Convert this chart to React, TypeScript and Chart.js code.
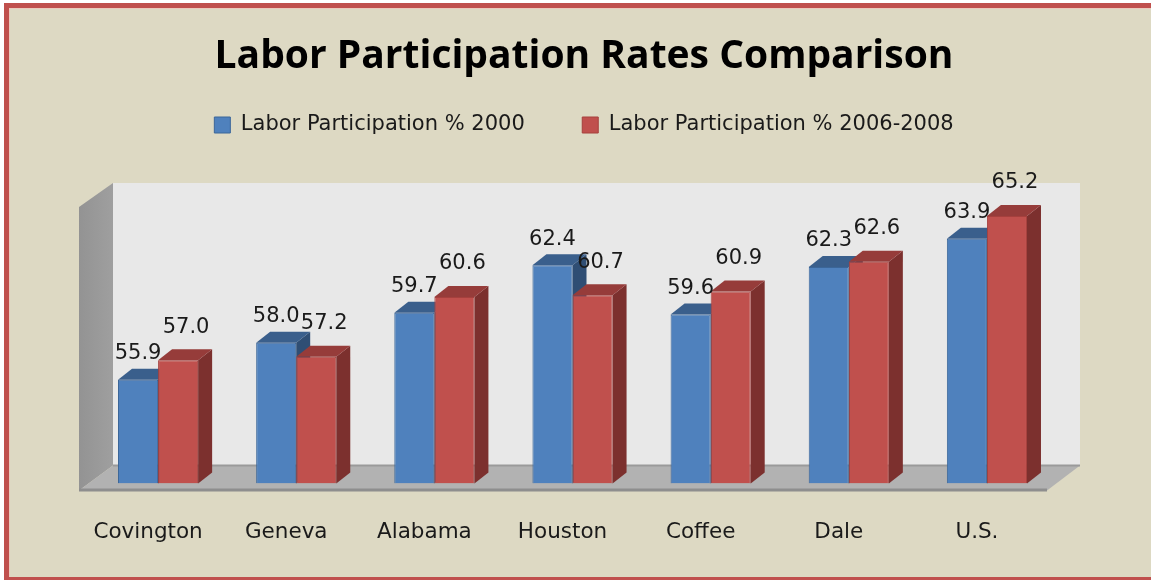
import React, { useEffect, useRef } from 'react';
import { Chart, registerables } from 'chart.js';

Chart.register(...registerables);

const categories = ['Covington', 'Geneva', 'Alabama', 'Houston', 'Coffee', 'Dale', 'U.S.'];
const rate2000 = [55.9, 58.0, 59.7, 62.4, 59.6, 62.3, 63.9];
const rate2006 = [57.0, 57.2, 60.6, 60.7, 60.9, 62.6, 65.2];
const seriesLabels = ['Labor Participation % 2000', 'Labor Participation % 2006-2008'];
const titleText = 'Labor Participation Rates Comparison';
const yMin = 50;
const yMax = 69.2;

// styles
const DX = 14;
const DY = -11;
const frontColors = ['#4F81BD', '#C0504D'];
const borderColors = ['#3B6699', '#A6403D'];
const topColors = ['#3A5F8C', '#963C3A'];
const sideColors = ['#2F4E74', '#7C302E'];
const labelDX = [0, 8];
const labelDY = [-26, -33];

function poly(ctx: CanvasRenderingContext2D, pts: number[][], fill: any) {
  ctx.beginPath();
  ctx.moveTo(pts[0][0], pts[0][1]);
  for (let i = 1; i < pts.length; i++) ctx.lineTo(pts[i][0], pts[i][1]);
  ctx.closePath();
  ctx.fillStyle = fill;
  ctx.fill();
}

const framePlugin = {
  id: 'frame3d',
  beforeDraw(chart: any) {
    const { ctx, width, height } = chart;
    ctx.save();
    ctx.fillStyle = '#FFFFFF';
    ctx.fillRect(0, 0, width, height);
    ctx.fillStyle = '#DDD9C3';
    ctx.fillRect(9, 8, width, height);
    ctx.strokeStyle = '#C0504D';
    ctx.lineWidth = 5;
    ctx.strokeRect(6.5, 5.5, width, height - 6);
    ctx.strokeStyle = '#EBC9BC';
    ctx.lineWidth = 1;
    ctx.beginPath();
    ctx.moveTo(9, 8.5);
    ctx.lineTo(width, 8.5);
    ctx.moveTo(9.5, 8);
    ctx.lineTo(9.5, height - 3);
    ctx.stroke();
    ctx.restore();
  },
  beforeDatasetsDraw(chart: any) {
    const { ctx } = chart;
    const { left, right, top, bottom } = chart.chartArea;
    const bwL = left + 24;
    const bwR = right + 24;
    const bwT = top + 37.5;
    const bwB = bottom - 18;
    const fL = left - 10;
    const fR = right - 9;
    const fY = bottom + 7;
    ctx.save();
    // back wall
    ctx.fillStyle = '#E8E8E8';
    ctx.fillRect(bwL, bwT, bwR - bwL, bwB - bwT);
    // left wall
    const grad = ctx.createLinearGradient(fL, 0, bwL, 0);
    grad.addColorStop(0, '#939393');
    grad.addColorStop(1, '#9F9F9F');
    poly(ctx, [[fL, bwT + 24], [bwL, bwT], [bwL, bwB], [fL, fY]], grad);
    // floor
    poly(ctx, [[bwL, bwB], [bwR, bwB], [fR, fY], [fL, fY]], '#B2B2B2');
    ctx.fillStyle = '#9A9A9A';
    ctx.fillRect(bwL, bwB - 1, bwR - bwL, 2);
    ctx.fillStyle = '#8E8E8E';
    ctx.fillRect(fL, fY - 2, fR - fL, 3);

    // bar 3D tops and sides
    chart.data.datasets.forEach((ds: any, di: number) => {
      const meta = chart.getDatasetMeta(di);
      meta.data.forEach((el: any) => {
        const w = el.width;
        const x0 = el.x - w / 2;
        const x1 = el.x + w / 2;
        const y = el.y;
        const b = Math.min(el.base, bottom);
        poly(ctx, [[x1, y], [x1 + DX, y + DY], [x1 + DX, b + DY], [x1, b]], sideColors[di]);
        poly(ctx, [[x0, y], [x1, y], [x1 + DX, y + DY], [x0 + DX, y + DY]], topColors[di]);
      });
    });
    ctx.restore();
  },
  afterDatasetsDraw(chart: any) {
    const { ctx } = chart;
    ctx.save();
    ctx.font = '21px "DejaVu Sans"';
    ctx.fillStyle = '#1A1A1A';
    ctx.textAlign = 'center';
    ctx.textBaseline = 'middle';
    chart.data.datasets.forEach((ds: any, di: number) => {
      const meta = chart.getDatasetMeta(di);
      meta.data.forEach((el: any, i: number) => {
        const v = ds.data[i] as number;
        ctx.fillText(v.toFixed(1), el.x + labelDX[di], el.y + labelDY[di]);
      });
    });
    ctx.restore();
  },
};

export default function App() {
  const ref = useRef<HTMLCanvasElement>(null);
  useEffect(() => {
    if (!ref.current) return;
    const chart = new Chart(ref.current, {
      type: 'bar',
      data: {
        labels: categories,
        datasets: [
          {
            label: seriesLabels[0],
            data: rate2000,
            base: yMin,
            backgroundColor: frontColors[0],
            borderColor: borderColors[0],
            borderWidth: 1,
          } as any,
          {
            label: seriesLabels[1],
            data: rate2006,
            base: yMin,
            backgroundColor: frontColors[1],
            borderColor: borderColors[1],
            borderWidth: 1,
          } as any,
        ],
      },
      options: {
        responsive: false,
        animation: false,
        devicePixelRatio: 1,
        layout: { padding: { left: 89, right: 72, top: 0, bottom: -1 } },
        datasets: { bar: { barPercentage: 1, categoryPercentage: 0.58 } },
        plugins: {
          title: {
            display: true,
            text: titleText,
            color: '#000000',
            font: { family: 'Open Sans', weight: 'bold', size: 39, lineHeight: 0.8 },
            padding: { top: 41.4, bottom: -15.6 },
          },
          legend: {
            display: true,
            position: 'top',
            labels: {
              font: { family: 'DejaVu Sans', size: 21 },
              color: '#1A1A1A',
              boxWidth: 16,
              boxHeight: 16,
              padding: 57.5,
            },
          },
          tooltip: { enabled: false },
        },
        scales: {
          x: {
            grid: { display: false, drawTicks: false },
            border: { display: false },
            ticks: {
              font: { family: 'DejaVu Sans', size: 21.5, lineHeight: 1 },
              color: '#1A1A1A',
              padding: 38,
              labelOffset: -10,
            },
          },
          y: {
            position: 'right',
            min: yMin,
            max: yMax,
            grid: { display: false, drawTicks: false },
            border: { display: false },
            ticks: { display: false },
            afterFit: (s: any) => {
              s.width = 23;
            },
          },
        },
      },
      plugins: [framePlugin],
    });
    return () => chart.destroy();
  }, []);
  return (
    <canvas
      ref={ref}
      width={1151}
      height={580}
      style={{ position: 'fixed', left: 0, top: 0, width: 1151, height: 580 }}
    />
  );
}
